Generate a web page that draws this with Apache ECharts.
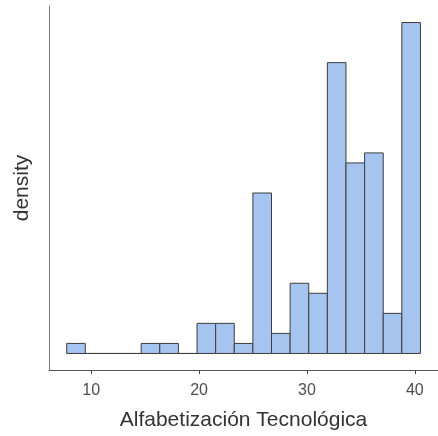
<!DOCTYPE html>
<html><head><meta charset="utf-8">
<script src="https://cdn.jsdelivr.net/npm/echarts@6/dist/echarts.min.js"></script>
<style>html,body{margin:0;padding:0;background:#fff}#c{width:438px;height:436px}</style>
</head><body><div id="c"></div>
<script>
// Histogram bins (left edges), bin width, and counts
var binStart = 7.73;
var binWidth = 1.726;
var counts = [1,0,0,0,1,1,0,3,3,1,16,2,7,6,29,19,20,4,33];
var xTicks = [10,20,30,40];
var xTitle = 'Alfabetización Tecnológica';
var yTitle = 'density';

var data = counts.map(function(c,i){
  var a = binStart + i*binWidth;
  return [a, a+binWidth, c];
});

var chart = echarts.init(document.getElementById('c'));
chart.setOption({
  animation:false,
  grid:{left:49, right:-7, top:6, bottom:65, containLabel:false},
  xAxis:{type:'value', min:6.09, max:42.15,
    name:xTitle, nameLocation:'middle', nameGap:40,
    nameTextStyle:{fontFamily:'Liberation Sans, Arial, sans-serif', fontSize:21, color:'#333'},
    splitLine:{show:false},
    axisLine:{show:true, onZero:false, lineStyle:{color:'#555', width:1}},
    axisTick:{show:true, length:4, lineStyle:{color:'#444'}, customValues:xTicks},
    axisLabel:{customValues:xTicks, fontFamily:'Liberation Sans, Arial, sans-serif', fontSize:16, color:'#4d4d4d', margin:13}
  },
  yAxis:{type:'value', min:-1.65, max:34.65,
    name:yTitle, nameLocation:'middle', nameGap:16,
    nameTextStyle:{fontFamily:'Liberation Sans, Arial, sans-serif', fontSize:21, color:'#333'},
    splitLine:{show:false},
    axisLine:{show:true, onZero:false, lineStyle:{color:'#777', width:1}},
    axisTick:{show:false}, axisLabel:{show:false}
  },
  series:[{
    type:'custom',
    data:data,
    encode:{x:[0,1], y:2},
    renderItem:function(params, api){
      var p0 = api.coord([api.value(0), 0]);
      var p1 = api.coord([api.value(1), api.value(2)]);
      return {type:'rect',
        shape:{x:p0[0], y:p1[1], width:p1[0]-p0[0], height:p0[1]-p1[1]},
        style:{fill:'#a6c4f0', stroke:'#3d3d3d', lineWidth:1}};
    }
  }]
});
</script></body></html>
